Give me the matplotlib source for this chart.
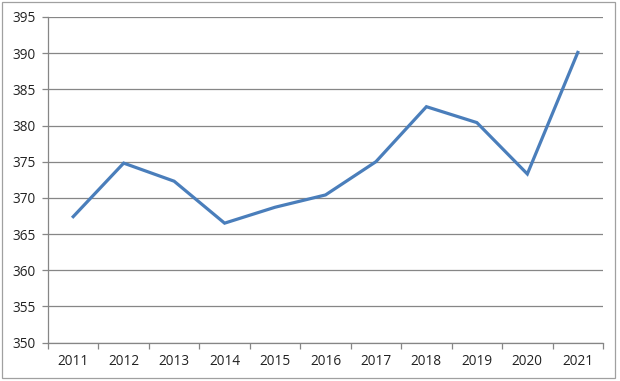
import matplotlib.pyplot as plt
from matplotlib.patches import Rectangle

# données
years = ['2011', '2012', '2013', '2014', '2015', '2016',
         '2017', '2018', '2019', '2020', '2021']
values = [367.4, 374.8, 372.3, 366.5, 368.7, 370.4,
          375.0, 382.6, 380.4, 373.3, 390.1]
y_ticks = [350, 355, 360, 365, 370, 375, 380, 385, 390, 395]

plt.rcParams['font.family'] = ['Open Sans', 'DejaVu Sans']

fig = plt.figure(figsize=(6.2, 3.81), dpi=100)
ax = fig.add_axes([0.0774, 0.101, 0.8952, 0.8544])

x = range(len(years))
ax.plot(x, values, color='#4A7EBB', linewidth=2.3, solid_joinstyle='miter', zorder=3)

ax.set_xlim(-0.5, len(years) - 0.5)
ax.set_ylim(350, 395)
ax.set_yticks(y_ticks)
ax.grid(axis='y', color='#868686', linewidth=0.9)
ax.set_axisbelow(True)

# ticks de catégories entre les années
ax.set_xticks([i - 0.5 for i in range(len(years) + 1)])
ax.set_xticklabels([])
ax.set_xticks(list(x), minor=True)
ax.set_xticklabels(years, minor=True)
ax.tick_params(axis='x', which='major', length=4, color='#868686', width=0.9)
ax.tick_params(axis='x', which='minor', length=0, pad=8, labelsize=9.8, labelcolor='#222222')
ax.tick_params(axis='y', length=4, color='#868686', width=0.9, pad=5,
               labelsize=9.8, labelcolor='#222222')

for side in ['top', 'right']:
    ax.spines[side].set_visible(False)
for side in ['left', 'bottom']:
    ax.spines[side].set_color('#868686')
    ax.spines[side].set_linewidth(0.9)

# cadre extérieur
fig.patches.append(Rectangle((0.003, 0.008), 0.989, 0.988, transform=fig.transFigure,
                             fill=False, edgecolor='#a0a0a0', linewidth=0.9))

plt.savefig('out.png', dpi=100)
